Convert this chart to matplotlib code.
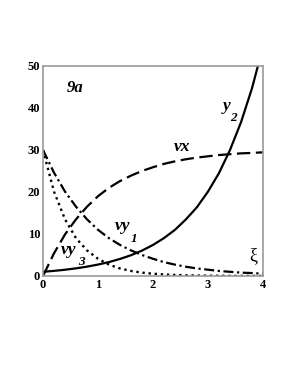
import matplotlib.pyplot as plt

# valores (xi de 0 a 4, passo 0.2)
xi = [0.0, 0.2, 0.4, 0.6, 0.8, 1.0, 1.2, 1.4, 1.6, 1.8, 2.0,
      2.2, 2.4, 2.6, 2.8, 3.0, 3.2, 3.4, 3.6, 3.8, 4.0]
y2 = [1.0, 1.22, 1.49, 1.82, 2.23, 2.72, 3.32, 4.06, 4.95, 6.05, 7.39,
      9.03, 11.0, 13.5, 16.4, 20.1, 24.5, 30.0, 36.6, 44.7, 54.6]
vx = [0.0, 5.4, 9.9, 13.5, 16.5, 19.0, 21.0, 22.6, 23.9, 25.0, 25.9,
      26.7, 27.3, 27.8, 28.2, 28.5, 28.8, 29.0, 29.2, 29.3, 29.45]
vy1 = [30.0, 24.6, 20.1, 16.5, 13.5, 11.0, 9.0, 7.4, 6.1, 5.0, 4.1,
       3.3, 2.7, 2.2, 1.8, 1.5, 1.2, 1.0, 0.8, 0.7, 0.55]
vy3 = [30.0, 20.1, 13.5, 9.0, 6.1, 4.1, 2.7, 1.8, 1.2, 0.8, 0.55,
       0.37, 0.25, 0.17, 0.11, 0.07, 0.05, 0.03, 0.02, 0.015, 0.01]

xticks = [0, 1, 2, 3, 4]
yticks = [0, 10, 20, 30, 40, 50]

plt.rcParams['font.family'] = 'Liberation Serif'

fig = plt.figure(figsize=(2.89, 3.74), dpi=100)
ax = fig.add_axes([43 / 289, 98 / 374, 220 / 289, 210 / 374])

ax.plot(xi, y2, color='black', lw=1.6, solid_capstyle='butt')
ax.plot(xi, vx, color='black', lw=1.6, dashes=(6, 2.5))
ax.plot(xi, vy1, color='black', lw=1.6, dashes=(4.5, 1.6, 1, 1.6))
ax.plot(xi, vy3, color='black', lw=1.7, dashes=(1, 1.6))

ax.set_xlim(0, 4)
ax.set_ylim(0, 50)
ax.set_xticks(xticks)
ax.set_yticks(yticks)
ax.tick_params(length=0, labelsize=9, pad=2)
for lab in ax.get_xticklabels() + ax.get_yticklabels():
    lab.set_fontweight('bold')
for s in ax.spines.values():
    s.set_color('#9a9a9a')
    s.set_linewidth(1.2)

# rotulos das curvas
bi = dict(fontweight='bold', fontstyle='italic', ha='center', va='center')
ax.text(0.58, 44.8, '9a', fontsize=12, **bi)
ax.text(2.53, 30.6, 'vx', fontsize=12.5, **bi)
ax.text(3.33, 40.5, 'y', fontsize=12.5, **bi)
ax.text(3.47, 37.6, '2', fontsize=9.5, **bi)
ax.text(1.45, 11.8, 'vy', fontsize=12.5, **bi)
ax.text(1.65, 8.8, '1', fontsize=9.5, **bi)
ax.text(0.47, 6.2, 'vy', fontsize=12.5, **bi)
ax.text(0.69, 3.3, '3', fontsize=9.5, **bi)
ax.text(3.82, 4.8, 'ξ', fontsize=13, ha='center', va='center')

fig.savefig('out.png', dpi=100)
